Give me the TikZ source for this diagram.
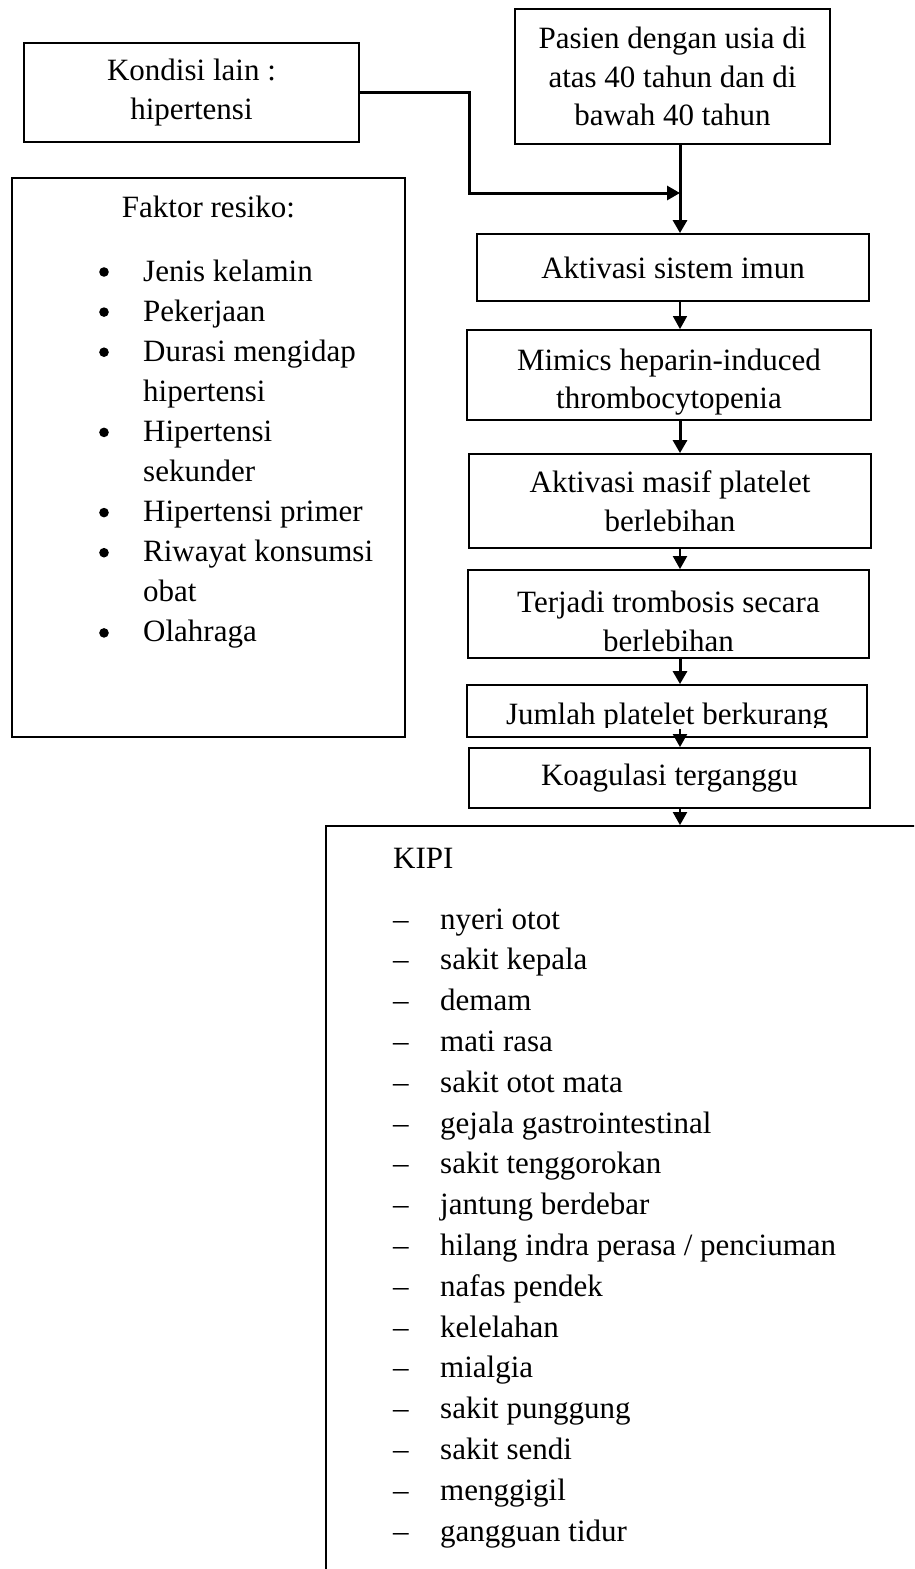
\documentclass[tikz,border=0pt]{standalone}
\usepackage{fontspec}
\setmainfont{Liberation Serif}
\usetikzlibrary{positioning,arrows.meta,calc}
\newcommand{\tallline}{\rule{0pt}{36pt}}

\begin{document}
\begin{tikzpicture}[
  x=1pt,y=-1pt,
  font=\fontsize{31}{38.5}\selectfont,
  box/.style={draw=black,line width=1.8pt,align=center,inner sep=0pt},
  item/.style={anchor=base west,inner sep=0pt},
  flow/.style={-{Triangle[length=13pt,width=14pt]},line width=2pt},
  bold/.style={flow,line width=3pt},
  slim/.style={flow,line width=1.4pt},
]
\useasboundingbox (0,0) rectangle (914,1569);
\clip (0,0) rectangle (914,1569);
\coordinate (spine) at (680,0);

% top boxes
\node[box,minimum width=335pt,minimum height=99pt] (kondisi) at (191.5,92.5) {Kondisi lain :\\hipertensi};
\node[box,minimum width=315pt,minimum height=135pt] (pasien) at (672.5,76.5) {Pasien dengan usia di\\atas 40 tahun dan di\\bawah 40 tahun};

% risk factors
\node[box,minimum width=393pt,minimum height=559pt] (faktor) at (208.5,457.5) {};
\node[anchor=base,inner sep=0pt] (ftitle) at (208.5,217) {Faktor resiko:};
\foreach \txt/\bul [count=\i from 0] in {Jenis kelamin/1,Pekerjaan/1,Durasi mengidap/1,hipertensi/0,Hipertensi/1,sekunder/0,Hipertensi primer/1,Riwayat konsumsi/1,obat/0,Olahraga/1}
{
  \node[item] (fk\i) at (143,{281+40.1*\i}) {\txt};
  \ifnum\bul=1 \fill (104,{272+40.1*\i}) circle[radius=4.8pt]; \fi
}

% chain
\node[box,minimum width=392pt,minimum height=67pt] (aktivasi) at (673,267.5) {Aktivasi sistem imun};
\node[box,minimum width=404pt,minimum height=90pt] (mimics) at (669,375) {\tallline Mimics heparin-induced\\thrombocytopenia};
\node[box,minimum width=402pt,minimum height=94pt] (masif) at (670,501) {Aktivasi masif platelet\\berlebihan};
\node[box,minimum width=401pt,minimum height=88pt] (tromb) at (668.5,614) {\tallline Terjadi trombosis secara\\berlebihan};
\node[box,minimum width=400pt,minimum height=52pt] (jumlah) at (667,711) {};
\begin{scope}
\clip (jumlah.north west) rectangle ([yshift=10pt]jumlah.south east);
\node[anchor=base,inner sep=0pt] (jtext) at (667,724) {Jumlah platelet berkurang};
\end{scope}
\node[box,minimum width=401pt,minimum height=60pt] (koag) at (669.5,778) {Koagulasi terganggu};

% KIPI
\node[box,minimum width=640pt,minimum height=800pt] (kipi) at (646,1226) {};
\node[item] (ktitle) at (393,868) {KIPI};
\foreach \txt [count=\i from 0] in {nyeri otot,sakit kepala,demam,mati rasa,sakit otot mata,gejala gastrointestinal,sakit tenggorokan,jantung berdebar,hilang indra perasa / penciuman,nafas pendek,kelelahan,mialgia,sakit punggung,sakit sendi,menggigil,gangguan tidur}
{
  \node[item] (kd\i) at (393,{929+40.8*\i}) {–};
  \node[item] (kp\i) at (440,{929+40.8*\i}) {\txt};
}

% connectors
\coordinate (elbow) at (469,193);
\draw[bold] (kondisi.east) -| (elbow) -- (elbow -| spine);
\draw[bold] (pasien.south -| spine) -- (aktivasi.north -| spine);
\draw[slim] (aktivasi.south -| spine) -- (mimics.north -| spine);
\draw[bold] (mimics.south -| spine) -- (masif.north -| spine);
\draw[flow] (masif.south -| spine) -- (tromb.north -| spine);
\draw[bold] (tromb.south -| spine) -- (jumlah.north -| spine);
\draw[flow] ($(jumlah.south -| spine)+(0,-9)$) -- (koag.north -| spine);
\draw[flow] (koag.south -| spine) -- (kipi.north -| spine);
\end{tikzpicture}
\end{document}
